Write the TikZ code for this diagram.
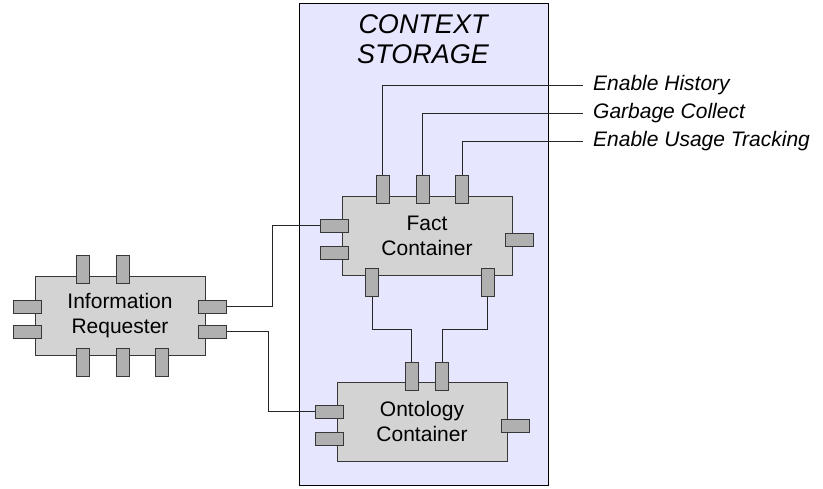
\documentclass[tikz,border=0pt]{standalone}
\usepackage{fontspec}
\setmainfont{Liberation Sans}
\definecolor{storagebg}{RGB}{230,230,255}
\definecolor{boxgrey}{RGB}{211,211,211}
\definecolor{pingrey}{RGB}{176,176,176}
\definecolor{edgegrey}{RGB}{55,55,55}
\tikzset{
  part/.style={draw=edgegrey, fill=boxgrey, line width=1pt, minimum width=170pt,
    minimum height=79pt, align=center, font=\fontsize{21}{25}\selectfont},
  pinv/.style={draw=edgegrey, fill=pingrey, line width=1pt, minimum width=13pt,
    minimum height=28pt, inner sep=0pt},
  pinh/.style={draw=edgegrey, fill=pingrey, line width=1pt, minimum width=28pt,
    minimum height=13pt, inner sep=0pt},
  wire/.style={draw=black!85, line width=0.9pt},
  flag/.style={anchor=west, inner xsep=10pt, inner ysep=0pt,
    font=\fontsize{21}{25}\selectfont\itshape}
}
\begin{document}
\begin{tikzpicture}[x=1pt, y=-1pt]
        \useasboundingbox (0,0) rectangle (823,488);
        % storage frame
        \draw [fill=storagebg, line width=0.9pt] (299,3) rectangle (548,485);
        \node [align=center, font=\fontsize{27}{30}\selectfont\itshape] (title) at (423,39) {CONTEXT\\STORAGE};
        % labels on the right
        \node [flag] (hist) at (583,85) {Enable History};
        \node [flag] (gc) at (583,113) {Garbage Collect};
        \node [flag] (track) at (583,141) {Enable Usage Tracking};
        % information requester
        \node [part] (req) at (120,316) {Information\\Requester};
        \node [pinv] (rt1) at (82.5,269) {};
        \node [pinv] (rt2) at (122.5,269) {};
        \node [pinv] (rb1) at (82.5,362) {};
        \node [pinv] (rb2) at (122.5,362) {};
        \node [pinv] (rb3) at (162,362) {};
        \node [pinh] (rl1) at (27,306.5) {};
        \node [pinh] (rl2) at (27,331.5) {};
        \node [pinh] (rr1) at (212.5,306.5) {};
        \node [pinh] (rr2) at (212.5,331.5) {};
        % fact container
        \node [part] (fact) at (427,235.5) {Fact\\Container};
        \node [pinv] (ft1) at (382.5,189) {};
        \node [pinv] (ft2) at (422.5,189) {};
        \node [pinv] (ft3) at (462,189) {};
        \node [pinh] (fl1) at (334.5,225.5) {};
        \node [pinh] (fl2) at (334.5,252.5) {};
        \node [pinh] (fr1) at (519.5,239.5) {};
        \node [pinv] (fb1) at (372,282.5) {};
        \node [pinv] (fb2) at (487.5,282.5) {};
        % ontology container
        \node [part] (onto) at (422,421.5) {Ontology\\Container};
        \node [pinv] (ot1) at (411.5,376) {};
        \node [pinv] (ot2) at (442,376) {};
        \node [pinh] (ol1) at (329,411.5) {};
        \node [pinh] (ol2) at (329,438.5) {};
        \node [pinh] (or1) at (515,425.5) {};
        % wires
        \draw [wire] (ft1.north) |- (hist.west);
        \draw [wire] (ft2.north) |- (gc.west);
        \draw [wire] (ft3.north) |- (track.west);
        \draw [wire] (rr1.east) -- ++(45.5,0) |- (fl1.west);
        \draw [wire] (rr2.east) -- ++(41.5,0) |- (ol1.west);
        \draw [wire] (fb1.south) -- ++(0,32.5) -| (ot1.north);
        \draw [wire] (fb2.south) -- ++(0,32.5) -| (ot2.north);
      \end{tikzpicture}
\end{document}
